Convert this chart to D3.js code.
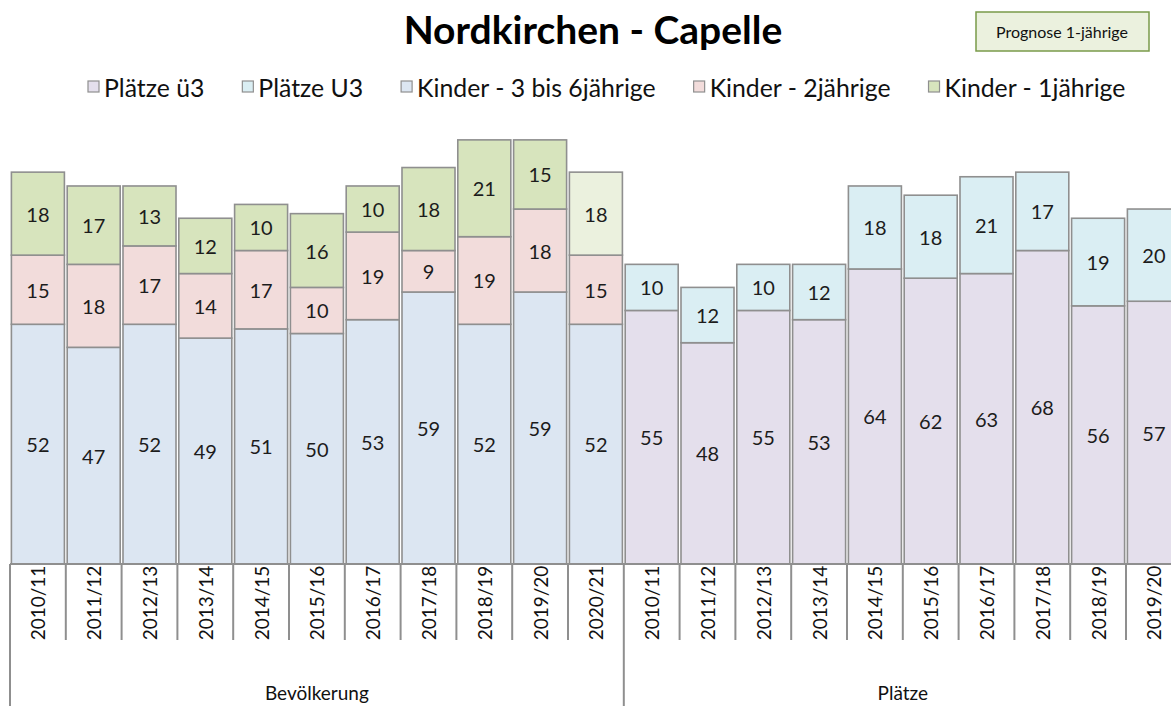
<!DOCTYPE html>
<html>
<head>
<meta charset="utf-8">
<script src="https://cdn.jsdelivr.net/npm/d3@7.9.0/dist/d3.min.js"></script>
<style>
  body { margin: 0; background: #fff; }
  svg { display: block; font-family: Lato, 'Open Sans', sans-serif; }
</style>
</head>
<body>
<svg id="chart" width="1171" height="706"></svg>
<script>
// data
const bevYears = ['2010/11', '2011/12', '2012/13', '2013/14', '2014/15', '2015/16', '2016/17', '2017/18', '2018/19', '2019/20', '2020/21'];
const platzYears = ['2010/11', '2011/12', '2012/13', '2013/14', '2014/15', '2015/16', '2016/17', '2017/18', '2018/19', '2019/20'];
const kinder3bis6 = [52, 47, 52, 49, 51, 50, 53, 59, 52, 59, 52];
const kinder2 = [15, 18, 17, 14, 17, 10, 19, 9, 19, 18, 15];
const kinder1 = [18, 17, 13, 12, 10, 16, 10, 18, 21, 15, 0];
const prognose1 = [0, 0, 0, 0, 0, 0, 0, 0, 0, 0, 18];
const plaetzeUe3 = [55, 48, 55, 53, 64, 62, 63, 68, 56, 57];
const plaetzeU3 = [10, 12, 10, 12, 18, 18, 21, 17, 19, 20];
const groupLabels = ['Bevölkerung', 'Plätze'];

const keys = ['k36', 'k2', 'k1', 'p1', 'ue3', 'u3'];
const legendKeys = ['ue3', 'u3', 'k36', 'k2', 'k1'];
const legendLabels = ['Plätze ü3', 'Plätze U3', 'Kinder - 3 bis 6jährige', 'Kinder - 2jährige', 'Kinder - 1jährige'];

const color = d3.scaleOrdinal()
  .domain(keys)
  .range(['#dce6f2', '#f2dcdb', '#d7e4bd', '#ebf1de', '#e4dfec', '#daeef3']);

// one row per category, zeros where a series does not apply
const rows = [];
bevYears.forEach((y, i) => {
  rows.push({ id: 'b' + i, label: y, group: 0,
    k36: kinder3bis6[i], k2: kinder2[i], k1: kinder1[i], p1: prognose1[i], ue3: 0, u3: 0 });
});
platzYears.forEach((y, i) => {
  rows.push({ id: 'p' + i, label: y, group: 1,
    k36: 0, k2: 0, k1: 0, p1: 0, ue3: plaetzeUe3[i], u3: plaetzeU3[i] });
});

const svg = d3.select('#chart');
const baseY = 564;

const x = d3.scaleBand()
  .domain(rows.map(d => d.id))
  .range([10, 10 + rows.length * 55.8])
  .paddingInner(0.05)
  .paddingOuter(0.025);

const y = d3.scaleLinear().domain([0, 100]).range([baseY, baseY - 461]);

const stacked = d3.stack().keys(keys)(rows);

// bars
const layers = svg.append('g').selectAll('g')
  .data(stacked)
  .join('g')
  .attr('fill', d => color(d.key));

layers.selectAll('rect')
  .data(d => d.filter(s => s[1] - s[0] > 0))
  .join('rect')
  .attr('x', d => x(d.data.id))
  .attr('width', x.bandwidth())
  .attr('y', d => y(d[1]))
  .attr('height', d => y(d[0]) - y(d[1]))
  .attr('stroke', '#8f8f8f')
  .attr('stroke-width', 1.6);

// value labels
layers.selectAll('text')
  .data(d => d.filter(s => s[1] - s[0] > 0))
  .join('text')
  .attr('x', d => x(d.data.id) + x.bandwidth() / 2)
  .attr('y', d => (y(d[0]) + y(d[1])) / 2)
  .attr('text-anchor', 'middle')
  .attr('dominant-baseline', 'central')
  .attr('font-size', 20)
  .attr('fill', '#1c1c1c')
  .text(d => d[1] - d[0]);

// category axis, excel style
const axis = svg.append('g').attr('stroke', '#8f8f8f').attr('stroke-width', 2);
const x0 = x.range()[0];
const step = x.step();
axis.append('line')
  .attr('x1', x0).attr('x2', x0 + rows.length * step)
  .attr('y1', baseY).attr('y2', baseY);

const groupStarts = [0, bevYears.length, rows.length];
d3.range(rows.length + 1).forEach(i => {
  const bx = x0 + i * step;
  axis.append('line')
    .attr('x1', bx).attr('x2', bx)
    .attr('y1', baseY)
    .attr('y2', groupStarts.includes(i) ? 706 : 640);
});

svg.append('g').selectAll('text')
  .data(rows)
  .join('text')
  .attr('transform', d => `translate(${x(d.id) + x.bandwidth() / 2},603) rotate(-90)`)
  .attr('text-anchor', 'middle')
  .attr('dominant-baseline', 'central')
  .attr('font-size', 19)
  .attr('fill', '#111')
  .text(d => d.label);

svg.append('g').selectAll('text')
  .data(groupLabels)
  .join('text')
  .attr('x', (d, i) => x0 + (groupStarts[i] + groupStarts[i + 1]) / 2 * step)
  .attr('y', 692)
  .attr('text-anchor', 'middle')
  .attr('dominant-baseline', 'central')
  .attr('font-size', 19)
  .attr('fill', '#111')
  .text(d => d);

// title
svg.append('text')
  .attr('x', 593)
  .attr('y', 44)
  .attr('text-anchor', 'middle')
  .attr('font-size', 39)
  .attr('font-weight', 'bold')
  .attr('fill', '#000')
  .text('Nordkirchen - Capelle');

// legend
let lx = 88;
legendKeys.forEach((k, i) => {
  const item = svg.append('g');
  item.append('rect')
    .attr('x', lx).attr('y', 81)
    .attr('width', 11).attr('height', 11)
    .attr('fill', color(k))
    .attr('stroke', '#8f8f8f')
    .attr('stroke-width', 1.2);
  const t = item.append('text')
    .attr('x', lx + 16)
    .attr('y', 87)
    .attr('dominant-baseline', 'central')
    .attr('font-size', 24.8)
    .attr('fill', '#111')
    .text(legendLabels[i]);
  lx += 16 + t.node().getComputedTextLength() + 38;
});

// prognose note box
svg.append('rect')
  .attr('x', 976).attr('y', 12)
  .attr('width', 173).attr('height', 39)
  .attr('fill', color('p1'))
  .attr('stroke', '#7a9a4a')
  .attr('stroke-width', 1.5);
svg.append('text')
  .attr('x', 1062).attr('y', 31)
  .attr('text-anchor', 'middle')
  .attr('dominant-baseline', 'central')
  .attr('font-size', 16)
  .attr('fill', '#111')
  .text('Prognose 1-jährige');
</script>
</body>
</html>
